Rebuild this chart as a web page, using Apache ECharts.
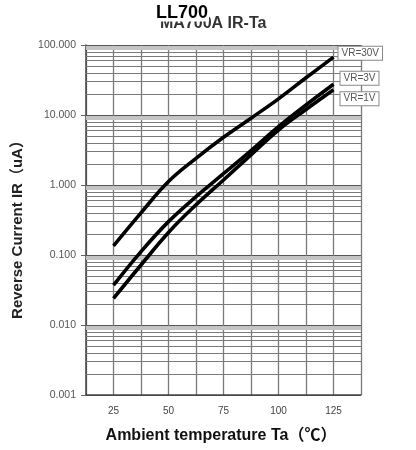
<!DOCTYPE html>
<html><head><meta charset="utf-8">
<script src="https://cdn.jsdelivr.net/npm/echarts@6/dist/echarts.min.js"></script>
<style>html,body{margin:0;padding:0;background:#fff}#c{width:416px;height:450px}</style>
</head><body><div id="c"></div>
<script>
const temps = [25, 37.5, 50, 62.5, 75, 87.5, 100, 112.5, 125];
const vr30 = [0.135, 0.40, 1.12, 2.4, 4.8, 9.0, 17, 34, 67];
const vr3  = [0.037, 0.112, 0.30, 0.68, 1.45, 3.1, 6.8, 13.9, 27.5];
const vr1  = [0.024, 0.072, 0.21, 0.52, 1.18, 2.7, 6.1, 12, 23];
const seriesNames = ['VR=30V', 'VR=3V', 'VR=1V'];
const xTickLabels = [25, 50, 75, 100, 125];
const xRange = [12.5, 137.5];
const decades = [0.001, 0.01, 0.1, 1, 10];
const minorMult = [2, 3, 4, 5, 6, 7, 8, 9];

const minorDark = [], minorBand = [];
decades.forEach(d => minorMult.forEach(m => {
  const v = +(d * m).toPrecision(3);
  (m === 9 ? minorBand : minorDark).push({ coords: [[xRange[0], v], [xRange[1], v]] });
}));

const font = '"Liberation Sans", Arial, "Noto Sans CJK SC", sans-serif';
const pair = arr => temps.map((t, i) => [t, arr[i]]);
const labelOffsets = [[0, -4], [2, -6], [2, 9]];

const mkSeries = (name, arr, k) => ({
  name, type: 'line', data: pair(arr), smooth: 0.4, showSymbol: false, z: 5,
  lineStyle: { color: '#000', width: 3.6 },
  endLabel: {
    show: true, formatter: name, distance: 5, offset: labelOffsets[k],
    color: '#555', fontSize: 10, fontFamily: font,
    backgroundColor: '#fff', borderColor: '#888', borderWidth: 1, padding: [2, 3, 1, 3]
  }
});

const chart = echarts.init(document.getElementById('c'));
chart.setOption({
  animation: false,
  backgroundColor: '#fff',
  grid: { left: 86, right: 55, top: 45, bottom: 55 },
  xAxis: {
    type: 'value', min: xRange[0], max: xRange[1], interval: 12.5,
    axisLine: { show: true, lineStyle: { color: '#444', width: 1.5 } },
    axisTick: { show: false },
    axisLabel: { margin: 11, color: '#444', fontSize: 10, fontFamily: font,
      formatter: v => xTickLabels.includes(v) ? String(v) : '' },
    splitLine: { show: true, lineStyle: { color: '#7a7a7a', width: 1.3 } }
  },
  yAxis: {
    type: 'log', logBase: 10, min: 0.001, max: 100,
    axisLine: { show: true, lineStyle: { color: '#444', width: 1.5 } },
    axisTick: { show: true, length: 5, lineStyle: { color: '#666' } },
    axisLabel: { margin: 10, color: '#555', fontSize: 10.5, fontFamily: font,
      formatter: v => v.toFixed(3) },
    splitLine: { show: true, lineStyle: { color: '#555', width: 1.2 } }
  },
  series: [
    { type: 'lines', coordinateSystem: 'cartesian2d', z: 1, silent: true,
      lineStyle: { type: 'solid', color: '#c4c4c4', width: 4, opacity: 1 }, data: minorBand },
    { type: 'lines', coordinateSystem: 'cartesian2d', z: 2, silent: true,
      lineStyle: { type: 'solid', color: '#7a7a7a', width: 1, opacity: 1 }, data: minorDark },
    mkSeries(seriesNames[0], vr30, 0),
    mkSeries(seriesNames[1], vr3, 1),
    mkSeries(seriesNames[2], vr1, 2)
  ],
  graphic: [
    { type: 'text', left: 160, top: 16, z: 10,
      style: { text: 'MA700A IR-Ta', font: 'bold 16px ' + font, fill: '#333' } },
    { type: 'text', left: 155, top: 4, z: 11,
      style: { text: 'LL700', font: 'bold 18px ' + font, fill: '#000',
        backgroundColor: '#fff', lineHeight: 17, padding: [0, 1, 0, 1] } },
    { type: 'text', x: 18, y: 226, rotation: Math.PI / 2, z: 10,
      style: { text: 'Reverse Current IR（uA）', font: 'bold 15px ' + font, fill: '#222',
        align: 'center', verticalAlign: 'middle' } },
    { type: 'text', x: 221, y: 436, z: 10,
      style: { text: 'Ambient temperature Ta（℃）', font: 'bold 16px ' + font, fill: '#111',
        align: 'center', verticalAlign: 'middle' } }
  ]
});
</script></body></html>
